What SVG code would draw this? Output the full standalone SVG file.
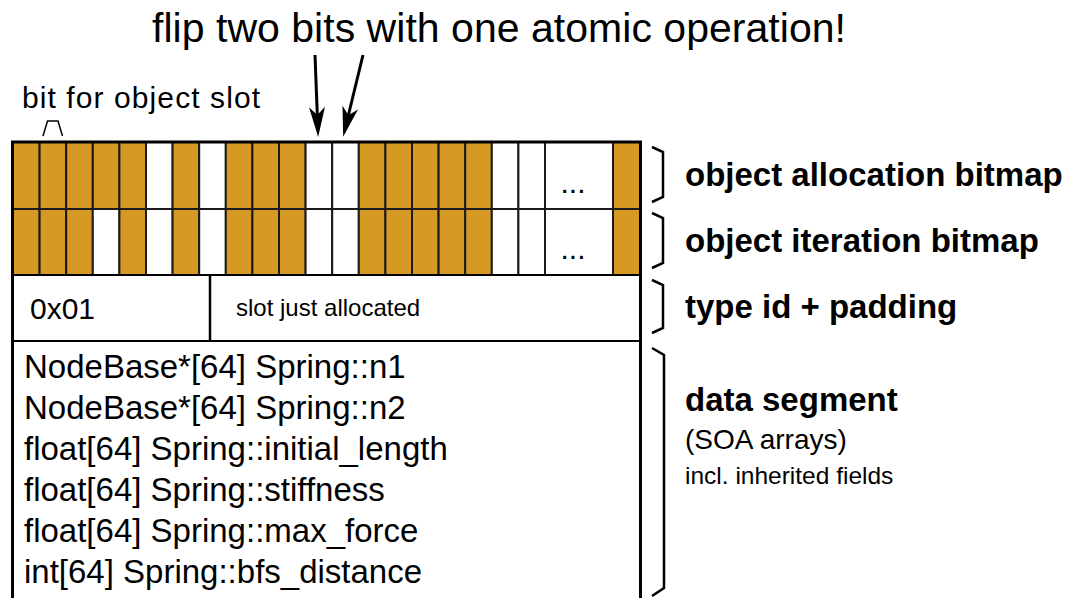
<svg xmlns="http://www.w3.org/2000/svg" width="1065" height="598" viewBox="0 0 1065 598">
  <style>
    text { font-family: "Liberation Sans", Arial, Helvetica, sans-serif; fill: #000; }
    .gold { fill: #D69A24; stroke: #1a1a1a; stroke-width: 2; }
    .empty { fill: #fff; stroke: #1a1a1a; stroke-width: 2; }
    .frame { fill: none; stroke: #000; stroke-width: 3; }
    .field { fill: #fff; stroke: #000; stroke-width: 2; }
    .brace { fill: none; stroke: #000; stroke-width: 2.5; stroke-linejoin: miter; }
    .arrow { fill: none; stroke: #000; stroke-width: 3; }
    .lbl { font-size: 33px; font-weight: bold; }
    .code { font-size: 33px; }
    .dots { font-size: 30px; }
  </style>
  <defs>
    <marker id="head" viewBox="0 0 30 16" markerUnits="userSpaceOnUse" markerWidth="30" markerHeight="16" refX="18" refY="8" orient="auto">
      <path d="M30,8 L0,0 L8,8 L0,16 Z" fill="#000"/>
    </marker>
  </defs>

  <!-- heading -->
  <g id="title">
    <text x="152" y="42" font-size="41" textLength="694" lengthAdjust="spacing">flip two bits with one atomic operation!</text>
  </g>

  <!-- slot marker label -->
  <g id="slot-label">
    <text x="22" y="108" font-size="30" textLength="238" lengthAdjust="spacing">bit for object slot</text>
    <path d="M43,136 L47.5,121 L58,121 L62.5,136" fill="none" stroke="#000" stroke-width="1.5"/>
  </g>

  <!-- allocation bitmap row -->
  <g id="allocation-bitmap">
    <rect class="gold" x="13" y="142" width="26.6" height="67"/>
    <rect class="gold" x="39.6" y="142" width="26.6" height="67"/>
    <rect class="gold" x="66.2" y="142" width="26.6" height="67"/>
    <rect class="gold" x="92.8" y="142" width="26.6" height="67"/>
    <rect class="gold" x="119.4" y="142" width="26.6" height="67"/>
    <rect class="empty" x="146" y="142" width="26.6" height="67"/>
    <rect class="gold" x="172.6" y="142" width="26.6" height="67"/>
    <rect class="empty" x="199.2" y="142" width="26.6" height="67"/>
    <rect class="gold" x="225.8" y="142" width="26.6" height="67"/>
    <rect class="gold" x="252.4" y="142" width="26.6" height="67"/>
    <rect class="gold" x="279" y="142" width="26.6" height="67"/>
    <rect class="empty" x="305.6" y="142" width="26.6" height="67"/>
    <rect class="empty" x="332.2" y="142" width="26.6" height="67"/>
    <rect class="gold" x="358.8" y="142" width="26.6" height="67"/>
    <rect class="gold" x="385.4" y="142" width="26.6" height="67"/>
    <rect class="gold" x="412" y="142" width="26.6" height="67"/>
    <rect class="gold" x="438.6" y="142" width="26.6" height="67"/>
    <rect class="gold" x="465.2" y="142" width="26.6" height="67"/>
    <rect class="empty" x="491.8" y="142" width="26.6" height="67"/>
    <rect class="empty" x="518.4" y="142" width="26.6" height="67"/>
    <rect class="empty" x="545" y="142" width="68" height="67"/>
    <rect class="gold" x="613" y="142" width="27" height="67"/>
    <text class="dots" x="573" y="193" text-anchor="middle">...</text>
  </g>

  <!-- iteration bitmap row -->
  <g id="iteration-bitmap">
    <rect class="gold" x="13" y="209" width="26.6" height="66"/>
    <rect class="gold" x="39.6" y="209" width="26.6" height="66"/>
    <rect class="gold" x="66.2" y="209" width="26.6" height="66"/>
    <rect class="empty" x="92.8" y="209" width="26.6" height="66"/>
    <rect class="gold" x="119.4" y="209" width="26.6" height="66"/>
    <rect class="empty" x="146" y="209" width="26.6" height="66"/>
    <rect class="gold" x="172.6" y="209" width="26.6" height="66"/>
    <rect class="empty" x="199.2" y="209" width="26.6" height="66"/>
    <rect class="gold" x="225.8" y="209" width="26.6" height="66"/>
    <rect class="gold" x="252.4" y="209" width="26.6" height="66"/>
    <rect class="gold" x="279" y="209" width="26.6" height="66"/>
    <rect class="empty" x="305.6" y="209" width="26.6" height="66"/>
    <rect class="empty" x="332.2" y="209" width="26.6" height="66"/>
    <rect class="gold" x="358.8" y="209" width="26.6" height="66"/>
    <rect class="gold" x="385.4" y="209" width="26.6" height="66"/>
    <rect class="gold" x="412" y="209" width="26.6" height="66"/>
    <rect class="gold" x="438.6" y="209" width="26.6" height="66"/>
    <rect class="gold" x="465.2" y="209" width="26.6" height="66"/>
    <rect class="empty" x="491.8" y="209" width="26.6" height="66"/>
    <rect class="empty" x="518.4" y="209" width="26.6" height="66"/>
    <rect class="empty" x="545" y="209" width="68" height="66"/>
    <rect class="gold" x="613" y="209" width="27" height="66"/>
    <text class="dots" x="573" y="259" text-anchor="middle">...</text>
  </g>

  <!-- type id + padding row -->
  <g id="type-id">
    <rect class="field" x="13" y="275" width="627" height="66"/>
    <line x1="210" y1="275" x2="210" y2="341" stroke="#000" stroke-width="2.5"/>
    <text x="30" y="319" font-size="30">0x01</text>
    <text x="236" y="316" font-size="24">slot just allocated</text>
  </g>

  <!-- data segment with SOA arrays -->
  <g id="data-segment">
    <rect class="field" x="13" y="341" width="627" height="280"/>
    <text class="code" x="24" y="378">NodeBase*[64] Spring::n1</text>
    <text class="code" x="24" y="419">NodeBase*[64] Spring::n2</text>
    <text class="code" x="24" y="460">float[64] Spring::initial_length</text>
    <text class="code" x="24" y="501">float[64] Spring::stiffness</text>
    <text class="code" x="24" y="542">float[64] Spring::max_force</text>
    <text class="code" x="24" y="583">int[64] Spring::bfs_distance</text>
  </g>

  <!-- outer frame of the block -->
  <rect class="frame" x="12.5" y="142" width="628" height="480"/>

  <!-- section labels with braces -->
  <g id="label-allocation">
    <path class="brace" d="M652,147 L663,152 L663,197 L652,202"/>
    <text class="lbl" x="685" y="186">object allocation bitmap</text>
  </g>
  <g id="label-iteration">
    <path class="brace" d="M652,213 L663,218 L663,263 L652,268"/>
    <text class="lbl" x="685" y="252">object iteration bitmap</text>
  </g>
  <g id="label-type">
    <path class="brace" d="M652,280 L663,285 L663,328 L652,333"/>
    <text class="lbl" x="685" y="318">type id + padding</text>
  </g>
  <g id="label-data">
    <path class="brace" d="M652,348 L664,355 L664,588 L652,596"/>
    <text class="lbl" x="685" y="411">data segment</text>
    <text x="685" y="449" font-size="28">(SOA arrays)</text>
    <text x="685" y="484" font-size="24.5">incl. inherited fields</text>
  </g>

  <!-- arrows pointing at the two flipped bits -->
  <g id="connectors">
    <line class="arrow" x1="315" y1="55" x2="317.7" y2="125" marker-end="url(#head)"/>
    <line class="arrow" x1="363" y1="55" x2="346" y2="125" marker-end="url(#head)"/>
  </g>
</svg>
